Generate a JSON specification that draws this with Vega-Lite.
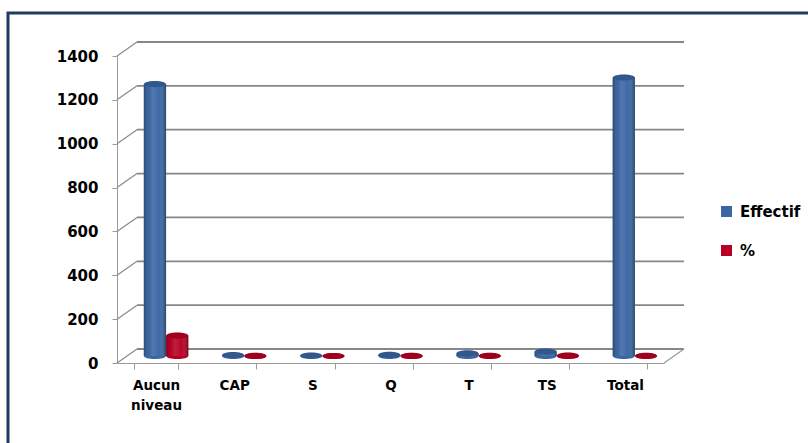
{
  "$schema": "https://vega.github.io/schema/vega-lite/v6.json",
  "width": 822,
  "height": 446,
  "autosize": {"type": "none"},
  "padding": {"left": 8, "top": 13, "right": 0, "bottom": 0},
  "background": "white",
  "config": {
    "view": {"stroke": "#1F3B63", "strokeWidth": 3},
    "font": "DejaVu Sans",
    "axisX": {
      "offset": -96, "domainColor": "#9A9A9A", "tickColor": "#9A9A9A", "tickSize": 6,
      "labelFont": "DejaVu Sans", "labelFontSize": 13.5, "labelFontWeight": "bold", "labelColor": "#000000",
      "labelPadding": 9, "labelAngle": 0, "title": null, "grid": false, "labelLineHeight": 20
    },
    "axisY": {
      "offset": -109, "domainColor": "#9A9A9A", "tickColor": "#9A9A9A", "tickSize": 5,
      "labelFont": "DejaVu Sans", "labelFontSize": 15, "labelFontWeight": "bold", "labelColor": "#000000",
      "labelPadding": 14, "title": null, "grid": false, "format": "d"
    }
  },
  "datasets": {
    "main": [
      {"cat": "Aucun niveau", "series": "Effectif", "value": 1240},
      {"cat": "Aucun niveau", "series": "%", "value": 93},
      {"cat": "CAP", "series": "Effectif", "value": 4},
      {"cat": "CAP", "series": "%", "value": 0.3},
      {"cat": "S", "series": "Effectif", "value": 2},
      {"cat": "S", "series": "%", "value": 0.2},
      {"cat": "Q", "series": "Effectif", "value": 5},
      {"cat": "Q", "series": "%", "value": 0.4},
      {"cat": "T", "series": "Effectif", "value": 12},
      {"cat": "T", "series": "%", "value": 0.9},
      {"cat": "TS", "series": "Effectif", "value": 20},
      {"cat": "TS", "series": "%", "value": 1.6},
      {"cat": "Total", "series": "Effectif", "value": 1270},
      {"cat": "Total", "series": "%", "value": 1}
    ],
    "grid": [{"v": 0}, {"v": 200}, {"v": 400}, {"v": 600}, {"v": 800}, {"v": 1000}, {"v": 1200}, {"v": 1400}],
    "floor": [{"v": 0}]
  },
  "resolve": {"scale": {"x": "independent"}},
  "layer": [
    {
      "data": {"name": "grid"},
      "layer": [
        {
          "mark": {"type": "rule", "color": "#878787", "strokeWidth": 1.8, "yOffset": -14},
          "encoding": {
            "x": {"datum": 0, "type": "quantitative", "scale": {"domain": [0, 1], "range": [129, 676], "nice": false, "zero": false}, "axis": null},
            "x2": {"datum": 1},
            "y": {"field": "v", "type": "quantitative", "scale": {"domain": [0, 1400], "range": [350, 43], "nice": false}, "axis": {"values": [0, 200, 400, 600, 800, 1000, 1200, 1400]}}
          }
        },
        {
          "mark": {"type": "rule", "color": "#8A8A8A", "strokeWidth": 1.2, "xOffset": -20, "y2Offset": -14},
          "encoding": {
            "x": {"datum": 0, "type": "quantitative"},
            "x2": {"datum": 0},
            "y": {"field": "v", "type": "quantitative"},
            "y2": {"field": "v"}
          }
        }
      ]
    },
    {
      "data": {"name": "floor"},
      "mark": {"type": "rule", "color": "#9A9A9A", "strokeWidth": 1.2, "xOffset": -20, "y2Offset": -14},
      "encoding": {
        "x": {"datum": 1, "type": "quantitative", "scale": {"domain": [0, 1], "range": [129, 676], "nice": false, "zero": false}, "axis": null},
        "x2": {"datum": 1},
        "y": {"field": "v", "type": "quantitative"},
        "y2": {"field": "v"}
      }
    },
    {
      "data": {"name": "main"},
      "mark": {"type": "point", "opacity": 0},
      "encoding": {
        "x": {
          "field": "cat", "type": "nominal",
          "sort": ["Aucun niveau", "CAP", "S", "Q", "T", "TS", "Total"],
          "scale": {"range": [109, 656], "paddingInner": 0.43, "paddingOuter": 0.215},
          "axis": {"orient": "bottom", "tickBand": "extent", "labelExpr": "split(datum.label, ' ')"}
        },
        "y": {"field": "value", "type": "quantitative"}
      }
    },
    {
      "data": {"name": "main"},
      "encoding": {
        "x": {
          "field": "cat", "type": "nominal",
          "sort": ["Aucun niveau", "CAP", "S", "Q", "T", "TS", "Total"],
          "scale": {"range": [119, 666], "paddingInner": 0.43, "paddingOuter": 0.215},
          "axis": null
        },
        "xOffset": {"field": "series", "type": "nominal", "sort": ["Effectif", "%"]},
        "y": {"field": "value", "type": "quantitative", "scale": {"domain": [0, 1400], "range": [350, 43], "nice": false}}
      },
      "layer": [
        {
          "mark": {"type": "point", "shape": "M-1,0A1,0.28,0,1,0,1,0A1,0.28,0,1,0,-1,0Z", "size": 484, "filled": true, "opacity": 1, "strokeWidth": 0, "yOffset": -7},
          "encoding": {
            "y": {"datum": 0, "type": "quantitative"},
            "color": {
              "field": "series", "type": "nominal",
              "scale": {"domain": ["Effectif", "%"], "range": ["#3A66A3", "#B80024"]},
              "legend": {
                "orient": "none", "legendX": 711, "legendY": 191, "title": null,
                "symbolType": "square", "symbolSize": 121, "symbolStrokeWidth": 0,
                "labelFont": "DejaVu Sans", "labelFontSize": 15, "labelFontWeight": "bold", "labelColor": "#000000",
                "rowPadding": 23, "labelOffset": 6, "padding": 0
              }
            }
          }
        },
        {
          "mark": {"type": "bar", "yOffset": -7},
          "encoding": {
            "color": {"field": "series", "type": "nominal"}
          }
        },
        {
          "mark": {
            "type": "bar", "yOffset": -7,
            "fill": {"gradient": "linear", "x1": 0, "y1": 0, "x2": 1, "y2": 0,
              "stops": [
                {"offset": 0, "color": "rgba(0,0,0,0.28)"},
                {"offset": 0.12, "color": "rgba(0,0,0,0.05)"},
                {"offset": 0.4, "color": "rgba(255,255,255,0.12)"},
                {"offset": 0.7, "color": "rgba(255,255,255,0.02)"},
                {"offset": 1, "color": "rgba(0,0,0,0.35)"}
              ]}
          }
        },
        {
          "mark": {"type": "point", "shape": "M-1,0A1,0.28,0,1,0,1,0A1,0.28,0,1,0,-1,0Z", "size": 484, "filled": true, "opacity": 1, "strokeWidth": 0, "yOffset": -7},
          "encoding": {
            "color": {"field": "series", "type": "nominal"}
          }
        },
        {
          "mark": {"type": "point", "shape": "M-1,0A1,0.28,0,1,0,1,0A1,0.28,0,1,0,-1,0Z", "size": 484, "filled": true, "opacity": 0.14, "color": "#000000", "strokeWidth": 0, "yOffset": -7}
        }
      ]
    }
  ]
}
